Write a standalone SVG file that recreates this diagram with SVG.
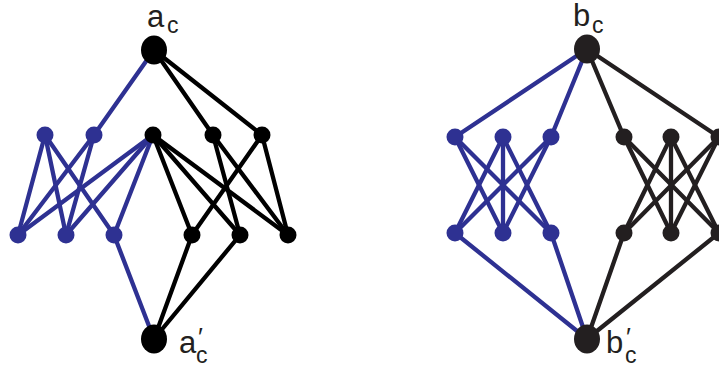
<svg xmlns="http://www.w3.org/2000/svg" width="719" height="368" viewBox="0 0 719 368">
<style>
.e{stroke-width:4.3;fill:none;stroke-linecap:round}
.bl{stroke:#2e3192}
.k{stroke:#000}
.k2{stroke:#231f20}
.nb{fill:#2e3192}
.nk{fill:#000}
.nk2{fill:#231f20}
.t{font-family:"Liberation Sans",Arial,sans-serif;fill:#231f20}
.m{font-size:31px}
.s{font-size:23px}
.p{font-size:26px}
</style>
<rect width="719" height="368" fill="#fff"/>
<g id="connectors">
<g class="e bl">
<line x1="154" y1="50" x2="94" y2="135"/>
<line x1="45" y1="135" x2="18" y2="235"/>
<line x1="45" y1="135" x2="66" y2="235"/>
<line x1="45" y1="135" x2="114" y2="235"/>
<line x1="94" y1="135" x2="18" y2="235"/>
<line x1="94" y1="135" x2="66" y2="235"/>
<line x1="153" y1="135" x2="18" y2="235"/>
<line x1="153" y1="135" x2="66" y2="235"/>
<line x1="153" y1="135" x2="114" y2="235"/>
<line x1="114" y1="235" x2="154" y2="339"/>
</g>
<g class="e k">
<line x1="154" y1="50" x2="213" y2="135"/>
<line x1="154" y1="50" x2="262" y2="135"/>
<line x1="153" y1="135" x2="192" y2="235"/>
<line x1="153" y1="135" x2="240" y2="235"/>
<line x1="153" y1="135" x2="288" y2="235"/>
<line x1="213" y1="135" x2="240" y2="235"/>
<line x1="213" y1="135" x2="288" y2="235"/>
<line x1="262" y1="135" x2="192" y2="235"/>
<line x1="262" y1="135" x2="288" y2="235"/>
<line x1="192" y1="235" x2="154" y2="339"/>
<line x1="240" y1="235" x2="154" y2="339"/>
</g>
<g class="e bl">
<line x1="587" y1="49" x2="455" y2="137"/>
<line x1="587" y1="49" x2="551" y2="137"/>
<line x1="455" y1="137" x2="503" y2="233"/>
<line x1="455" y1="137" x2="551" y2="233"/>
<line x1="503" y1="137" x2="455" y2="233"/>
<line x1="503" y1="137" x2="503" y2="233"/>
<line x1="503" y1="137" x2="551" y2="233"/>
<line x1="551" y1="137" x2="455" y2="233"/>
<line x1="551" y1="137" x2="503" y2="233"/>
<line x1="455" y1="233" x2="587" y2="339"/>
<line x1="551" y1="233" x2="587" y2="339"/>
</g>
<g class="e k2">
<line x1="587" y1="49" x2="624" y2="137"/>
<line x1="587" y1="49" x2="719" y2="137"/>
<line x1="624" y1="137" x2="671" y2="233"/>
<line x1="624" y1="137" x2="719" y2="233"/>
<line x1="671" y1="137" x2="624" y2="233"/>
<line x1="671" y1="137" x2="671" y2="233"/>
<line x1="671" y1="137" x2="719" y2="233"/>
<line x1="719" y1="137" x2="624" y2="233"/>
<line x1="719" y1="137" x2="671" y2="233"/>
<line x1="624" y1="233" x2="587" y2="339"/>
<line x1="719" y1="233" x2="587" y2="339"/>
</g>
</g>
<g id="a_c"><ellipse class="nk" cx="154" cy="50" rx="13" ry="14.5"/><text class="t m" x="147" y="27">a<tspan class="s" x="167" y="33">c</tspan></text></g>
<g id="a_c_prime"><ellipse class="nk" cx="154" cy="339" rx="13" ry="14.5"/><text class="t m" x="179" y="353">a<tspan class="p" x="198" y="346">′</tspan><tspan class="s" x="196" y="363">c</tspan></text></g>
<g id="L_u1"><circle class="nb" cx="45" cy="135" r="8.5"/></g>
<g id="L_u2"><circle class="nb" cx="94" cy="135" r="8.5"/></g>
<g id="L_u3"><circle class="nk" cx="153" cy="135" r="8.5"/></g>
<g id="L_u4"><circle class="nk" cx="213" cy="135" r="8.5"/></g>
<g id="L_u5"><circle class="nk" cx="262" cy="135" r="8.5"/></g>
<g id="L_l1"><circle class="nb" cx="18" cy="235" r="8.5"/></g>
<g id="L_l2"><circle class="nb" cx="66" cy="235" r="8.5"/></g>
<g id="L_l3"><circle class="nb" cx="114" cy="235" r="8.5"/></g>
<g id="L_l4"><circle class="nk" cx="192" cy="235" r="8.5"/></g>
<g id="L_l5"><circle class="nk" cx="240" cy="235" r="8.5"/></g>
<g id="L_l6"><circle class="nk" cx="288" cy="235" r="8.5"/></g>
<g id="b_c"><ellipse class="nk2" cx="587" cy="49" rx="13" ry="14.5"/><text class="t m" x="573" y="26">b<tspan class="s" x="592" y="33">c</tspan></text></g>
<g id="b_c_prime"><ellipse class="nk2" cx="587" cy="339" rx="13" ry="14.5"/><text class="t m" x="606" y="353">b<tspan class="p" x="626" y="346">′</tspan><tspan class="s" x="625" y="363">c</tspan></text></g>
<g id="R_u1"><circle class="nb" cx="455" cy="137" r="8.5"/></g>
<g id="R_u2"><circle class="nb" cx="503" cy="137" r="8.5"/></g>
<g id="R_u3"><circle class="nb" cx="551" cy="137" r="8.5"/></g>
<g id="R_u4"><circle class="nk2" cx="624" cy="137" r="8.5"/></g>
<g id="R_u5"><circle class="nk2" cx="671" cy="137" r="8.5"/></g>
<g id="R_u6"><circle class="nk2" cx="719" cy="137" r="8.5"/></g>
<g id="R_l1"><circle class="nb" cx="455" cy="233" r="8.5"/></g>
<g id="R_l2"><circle class="nb" cx="503" cy="233" r="8.5"/></g>
<g id="R_l3"><circle class="nb" cx="551" cy="233" r="8.5"/></g>
<g id="R_l4"><circle class="nk2" cx="624" cy="233" r="8.5"/></g>
<g id="R_l5"><circle class="nk2" cx="671" cy="233" r="8.5"/></g>
<g id="R_l6"><circle class="nk2" cx="719" cy="233" r="8.5"/></g>
</svg>
